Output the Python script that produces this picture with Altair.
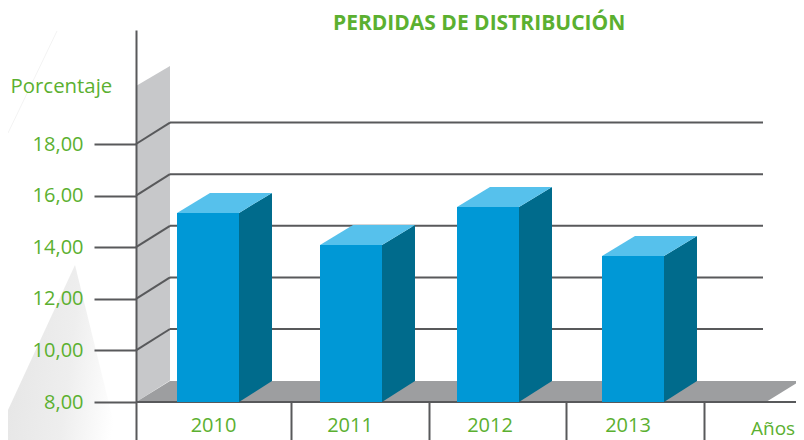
import altair as alt
import pandas as pd

# ---- data
years = ["2010", "2011", "2012", "2013"]
values = [15.33, 14.09, 15.56, 13.66]
y_ticks = [8, 10, 12, 14, 16, 18]
back_lines = [10, 12, 14, 16, 18]

# ---- layout helpers (x is in page pixels, y in data units)
bar_left = [177, 320, 457, 602]
bar_w = 62
label_x = [213.5, 350, 490, 628]
sep_x = [291, 429, 566, 704]
AX = 136
DX = 34
DY = 0.83
BAR_DX = 33
BAR_DY_TOP = 0.775
BAR_DY_BOTTOM = 0.81
BASE = 8.0
PX = 25.8
WALL = 20.25
GRID_END = 763
FLOOR_END = 766
FONT = "Open Sans"
GREEN = "#5bb030"
DARK = "#58595b"
W = 788
H = 410
TOP = 30


def py(v):
    """page y -> data units"""
    return BASE + (402 - v) / PX


xs = alt.Scale(domain=[8, 8 + W], range=[0, W], nice=False, zero=False)
ys = alt.Scale(domain=[py(TOP + H), py(TOP)], range=[H, 0], nice=False, zero=False)

x_axis = alt.Axis(
    values=sep_x, orient="bottom", offset=-(TOP + H - 402), tickSize=TOP + H - 402, tickWidth=2, tickColor=DARK,
    labels=False, domain=False, grid=False, title=None, zindex=1)
y_axis = alt.Axis(
    values=y_ticks, orient="left", offset=-(AX - 8), tickSize=42, tickWidth=2, tickColor=DARK,
    domainColor=DARK, domainWidth=2, grid=False, zindex=1,
    labelExpr="replace(format(datum.value,'.2f'),'.',',')",
    labelFont=FONT, labelFontSize=20, labelColor=GREEN, labelPadding=11,
    title="Porcentaje", titleFont=FONT, titleFontSize=20.4, titleFontWeight="normal",
    titleColor=GREEN, titleAngle=0, titleAlign="left", titleBaseline="middle",
    titleX=-126, titleY=56)
X = lambda f="x": alt.X(f"{f}:Q", scale=xs, axis=x_axis)
Y = lambda f="y": alt.Y(f"{f}:Q", scale=ys, axis=y_axis, stack=None)

# decoration
cone = pd.DataFrame({"x": [8, 75, 118], "y": [py(410), py(265), py(440)], "y2": [py(440)] * 3})
cone_l = alt.Chart(cone).mark_area(
    color=alt.Gradient(
        gradient="linear", x1=0, y1=0.5, x2=1, y2=0.7,
        stops=[
            alt.GradientStop(color="#e6e6e6", offset=0),
            alt.GradientStop(color="#eeeeee", offset=0.55),
            alt.GradientStop(color="#ffffff", offset=1),
        ],
    )
).encode(x=X(), y=Y(), y2="y2:Q")
streak = pd.DataFrame({"x": [57, 8], "y": [py(31), py(133)]})
streak_l = alt.Chart(streak).mark_line(color="#f3f3f3", strokeWidth=1).encode(x=X(), y=Y())

# wall
wall = pd.DataFrame({"x": [AX, AX + DX], "y": [WALL, WALL + BAR_DY_TOP], "y2": [BASE, BASE + DY]})
wall_l = alt.Chart(wall).mark_area(color="#c7c8ca").encode(x=X(), y=Y(), y2="y2:Q")

# floor
floor = pd.DataFrame({"y": [BASE, BASE + BAR_DY_BOTTOM], "x": [AX, AX + DX], "x2": [FLOOR_END, FLOOR_END + DX]})
floor_l = alt.Chart(floor).mark_area(color="#9d9ea0", orient="horizontal").encode(
    y=Y(), x=X(), x2="x2:Q")

# gridlines on the back wall and their diagonals
back = pd.DataFrame({"v": [v + DY for v in back_lines], "x": AX + DX, "x2": GRID_END})
back_l = alt.Chart(back).mark_rule(color=DARK, strokeWidth=2).encode(y=Y("v"), x=X(), x2="x2:Q")
diag = pd.DataFrame(
    [{"k": v, "x": AX, "y": v} for v in back_lines] + [{"k": v, "x": AX + DX, "y": v + DY} for v in back_lines]
)
diag_l = alt.Chart(diag).mark_line(color=DARK, strokeWidth=2).encode(x=X(), y=Y(), detail="k:N")

# base line
base = pd.DataFrame({"x": [AX], "x2": [8 + W], "y": [BASE]})
base_l = alt.Chart(base).mark_rule(color=DARK, strokeWidth=2).encode(x=X(), x2="x2:Q", y=Y())

# bars
front = pd.DataFrame({"year": years, "x": bar_left, "x2": [b + bar_w for b in bar_left], "y": values, "y2": BASE})
front_l = alt.Chart(front).mark_rect(color="#0098d6").encode(x=X(), x2="x2:Q", y=Y(), y2="y2:Q")
side = pd.DataFrame(
    [{"year": yr, "x": b + bar_w, "y": v, "y2": BASE} for yr, b, v in zip(years, bar_left, values)]
    + [{"year": yr, "x": b + bar_w + BAR_DX, "y": v + BAR_DY_TOP, "y2": BASE + BAR_DY_BOTTOM}
       for yr, b, v in zip(years, bar_left, values)]
)
side_l = alt.Chart(side).mark_area(color="#006b8c").encode(x=X(), y=Y(), y2="y2:Q", detail="year:N")
top = pd.DataFrame(
    [{"year": yr, "y": v, "x": b, "x2": b + bar_w} for yr, b, v in zip(years, bar_left, values)]
    + [{"year": yr, "y": v + BAR_DY_TOP, "x": b + BAR_DX, "x2": b + bar_w + BAR_DX}
       for yr, b, v in zip(years, bar_left, values)]
)
top_l = alt.Chart(top).mark_area(color="#56c1ec", orient="horizontal").encode(
    y=Y(), x=X(), x2="x2:Q", detail="year:N")

# category labels
labs = pd.DataFrame({"t": years, "x": label_x, "y": py(431.5)})
labs_l = alt.Chart(labs).mark_text(
    font=FONT, fontSize=20, color=GREEN, align="center", baseline="alphabetic"
).encode(x=X(), y=Y(), text="t:N")
anos = pd.DataFrame({"t": ["Años"], "x": [751], "y": [py(435)]})
anos_l = alt.Chart(anos).mark_text(
    font=FONT, fontSize=19, color=GREEN, align="left", baseline="alphabetic"
).encode(x=X(), y=Y(), text="t:N")

chart = alt.layer(
    cone_l, streak_l, wall_l, floor_l, back_l, diag_l, base_l,
    front_l, side_l, top_l, labs_l, anos_l,
).properties(
    width=W, height=H,
    padding={"left": 0, "top": 22, "right": 0, "bottom": 0},
    autosize=alt.AutoSizeParams(type="none"),
    title=alt.TitleParams(
        "PERDIDAS DE DISTRIBUCIÓN", anchor="start", dx=327, dy=5, offset=0,
        font=FONT, fontSize=21, fontWeight="bold", color=GREEN,
    ),
).configure_view(stroke=None)

chart.save("out.html", embed_options={"renderer": "svg", "actions": False})
